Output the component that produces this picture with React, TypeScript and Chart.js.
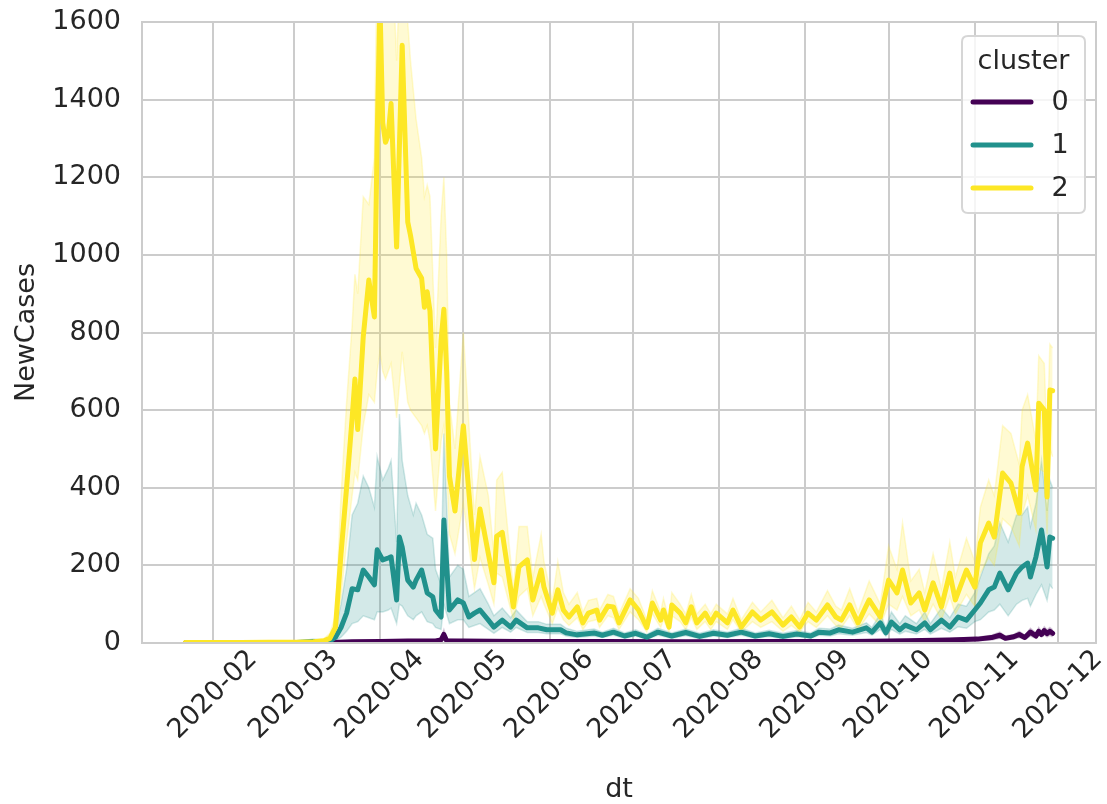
import React, { useEffect, useRef } from "react";
import { Chart, registerables } from "chart.js";

Chart.register(...registerables);

// ---------- data ----------
const clusterNames = ["0", "1", "2"];
const lineColors = ["#440154", "#21918c", "#fde725"];
const bandColors = ["rgba(68,1,84,0.2)", "rgba(33,145,140,0.2)", "rgba(253,231,37,0.2)"];

// day index counted from 2020-01-22
const monthTickDays = [10, 39, 70, 100, 131, 161, 192, 223, 253, 284, 314];
const monthTickLabels = ["2020-02", "2020-03", "2020-04", "2020-05", "2020-06", "2020-07", "2020-08", "2020-09", "2020-10", "2020-11", "2020-12"];
const yTickValues = [0, 200, 400, 600, 800, 1000, 1200, 1400, 1600];

// cluster 0
const c0Days = [0, 50, 55, 60, 70, 80, 90, 92, 93, 94, 100, 120, 150, 180, 210, 240, 260, 275, 285, 290, 293, 295, 298, 300, 302, 304, 306, 307, 308, 309, 310, 311, 312];
const c0Mean = [0, 0, 2, 3, 4, 5, 5, 8, 22, 6, 5, 4, 4, 3, 4, 4, 6, 8, 10, 14, 20, 12, 16, 22, 14, 28, 18, 30, 22, 32, 24, 30, 25];
const c0Lo = [0, 0, 0, 1, 2, 2, 2, 4, 10, 3, 2, 2, 2, 2, 2, 2, 3, 5, 6, 8, 12, 8, 10, 14, 9, 18, 12, 20, 15, 21, 16, 20, 16];
const c0Hi = [0, 1, 4, 6, 7, 8, 8, 12, 34, 10, 8, 7, 6, 5, 6, 7, 9, 12, 15, 20, 28, 18, 22, 30, 20, 38, 26, 40, 30, 42, 34, 40, 34];

// cluster 1
const c1Days = [0, 20, 40, 46, 50, 52, 54, 56, 58, 60, 62, 64, 66, 68, 69, 71, 73, 74, 76, 77, 78, 80, 82, 83, 85, 87, 89, 90, 92, 93, 95, 98, 100, 102, 104, 106, 109, 111, 114, 117, 119, 123, 127, 130, 135, 137, 141, 147, 150, 154, 158, 162, 166, 170, 175, 180, 185, 190, 195, 200, 205, 210, 215, 220, 225, 228, 232, 235, 240, 245, 247, 250, 252, 254, 257, 259, 263, 266, 268, 272, 275, 278, 281, 284, 286, 289, 291, 293, 296, 299, 301, 303, 304, 306, 308, 310, 311, 312];
const c1Mean = [0, 0, 1, 4, 3, 5, 15, 40, 77, 140, 137, 188, 170, 150, 240, 214, 219, 222, 111, 273, 247, 162, 144, 162, 188, 129, 119, 85, 67, 317, 85, 111, 103, 67, 77, 85, 59, 41, 59, 41, 59, 39, 39, 34, 34, 26, 21, 26, 20, 28, 18, 25, 15, 28, 18, 27, 17, 25, 20, 28, 18, 24, 17, 23, 18, 28, 26, 34, 28, 39, 28, 52, 26, 54, 34, 46, 34, 52, 34, 59, 41, 67, 59, 85, 103, 137, 144, 180, 137, 180, 196, 206, 170, 222, 291, 196, 273, 270];
const c1Lo = [0, 0, 0, 1, 1, 2, 6, 15, 30, 50, 55, 70, 65, 60, 80, 80, 85, 90, 50, 100, 95, 70, 60, 70, 80, 55, 50, 40, 35, 100, 50, 60, 60, 40, 45, 50, 35, 25, 40, 28, 40, 27, 27, 24, 24, 18, 14, 18, 14, 20, 12, 18, 10, 20, 12, 19, 11, 18, 14, 20, 12, 17, 11, 16, 12, 20, 18, 24, 20, 27, 20, 35, 18, 35, 23, 30, 23, 35, 23, 38, 28, 42, 38, 55, 60, 80, 85, 100, 70, 100, 110, 115, 95, 125, 150, 110, 150, 140];
const c1Hi = [1, 1, 3, 10, 8, 12, 35, 100, 190, 330, 360, 430, 400, 350, 480, 420, 450, 470, 260, 590, 470, 380, 330, 360, 330, 280, 270, 190, 150, 540, 170, 200, 190, 120, 130, 140, 100, 70, 90, 65, 85, 55, 55, 48, 48, 38, 30, 36, 28, 38, 26, 34, 22, 38, 26, 36, 25, 34, 28, 38, 26, 33, 25, 32, 26, 38, 36, 46, 38, 52, 40, 75, 40, 80, 50, 70, 50, 80, 50, 90, 65, 100, 95, 130, 170, 230, 250, 310, 260, 330, 330, 350, 300, 360, 470, 340, 420, 400];

// cluster 2
const c2Days = [0, 10, 20, 30, 40, 46, 50, 52, 54, 56, 58, 60, 61, 62, 64, 66, 68, 69, 70, 71, 72, 73, 74, 76, 78, 80, 81, 83, 85, 86, 87, 88, 90, 92, 93, 94, 95, 97, 100, 104, 106, 109, 111, 112, 114, 118, 120, 123, 125, 128, 129, 132, 134, 136, 138, 141, 143, 145, 148, 149, 152, 154, 156, 160, 163, 166, 168, 171, 172, 174, 175, 178, 180, 182, 184, 187, 189, 191, 195, 197, 200, 204, 207, 211, 215, 218, 221, 224, 227, 231, 234, 236, 239, 242, 246, 250, 253, 256, 258, 261, 264, 266, 269, 272, 275, 277, 281, 284, 286, 289, 291, 294, 297, 300, 301, 303, 306, 307, 309, 310, 311, 312];
const c2Mean = [1, 1, 1, 2, 2, 3, 6, 12, 40, 230, 400, 580, 680, 550, 790, 935, 840, 1300, 1650, 1340, 1290, 1310, 1390, 1020, 1540, 1085, 1050, 965, 940, 865, 905, 855, 500, 780, 860, 700, 430, 340, 560, 215, 345, 230, 155, 275, 285, 93, 196, 214, 111, 188, 144, 77, 137, 85, 67, 93, 52, 77, 85, 59, 95, 93, 52, 111, 85, 40, 103, 59, 85, 41, 98, 77, 52, 93, 52, 77, 52, 77, 52, 85, 41, 80, 59, 80, 46, 67, 41, 77, 59, 98, 67, 59, 98, 52, 111, 67, 162, 129, 188, 103, 129, 85, 155, 93, 180, 111, 188, 144, 258, 309, 273, 438, 412, 335, 454, 515, 394, 618, 600, 376, 652, 650];
const c2Lo = [0, 0, 0, 0, 1, 1, 2, 5, 20, 120, 260, 380, 440, 420, 560, 640, 620, 700, 750, 700, 680, 700, 720, 580, 750, 620, 600, 580, 560, 540, 560, 520, 340, 520, 560, 450, 280, 230, 360, 140, 220, 150, 100, 180, 170, 60, 120, 140, 70, 120, 100, 50, 90, 60, 45, 65, 35, 55, 60, 40, 70, 65, 35, 80, 60, 28, 75, 40, 60, 28, 70, 55, 35, 65, 35, 55, 35, 55, 35, 60, 28, 55, 40, 55, 30, 45, 28, 55, 40, 70, 45, 40, 70, 35, 75, 45, 100, 85, 120, 70, 85, 55, 100, 60, 120, 75, 125, 95, 180, 220, 200, 320, 300, 250, 330, 380, 290, 450, 440, 280, 500, 480];
const c2Hi = [3, 3, 3, 4, 5, 6, 12, 25, 70, 380, 620, 820, 950, 900, 1150, 1130, 1250, 1800, 1900, 1800, 1800, 1800, 1850, 1500, 1900, 1600, 1500, 1350, 1250, 1150, 1180, 1150, 760, 1100, 1200, 1000, 620, 500, 800, 330, 480, 380, 230, 420, 440, 140, 300, 300, 170, 280, 210, 110, 210, 130, 100, 130, 80, 110, 115, 85, 125, 120, 75, 140, 115, 60, 135, 80, 115, 60, 130, 100, 75, 125, 75, 100, 75, 100, 75, 115, 60, 105, 80, 110, 65, 95, 60, 105, 80, 135, 95, 85, 140, 80, 160, 100, 250, 190, 310, 160, 190, 130, 230, 140, 260, 170, 270, 210, 350, 420, 380, 560, 540, 460, 600, 640, 520, 740, 720, 520, 770, 760];

const seriesDays = [c0Days, c1Days, c2Days];
const seriesMean = [c0Mean, c1Mean, c2Mean];
const seriesLo = [c0Lo, c1Lo, c2Lo];
const seriesHi = [c0Hi, c1Hi, c2Hi];

const FONT = "'DejaVu Sans', sans-serif";
const TEXT_COLOR = "#262626";
const GRID_COLOR = "#cccccc";
const FONT_SIZE = 27;

const toPoints = (days: number[], vals: number[]) => days.map((d, i) => ({ x: d, y: vals[i] }));

export default function App() {
  const canvasRef = useRef<HTMLCanvasElement | null>(null);

  useEffect(() => {
    const canvas = canvasRef.current;
    if (!canvas) return;

    const datasets: any[] = [];
    // confidence bands first (drawn beneath all lines)
    for (let i = 0; i < 3; i++) {
      const loIndex = datasets.length;
      datasets.push({
        label: `lo${i}`,
        data: toPoints(seriesDays[i], seriesLo[i]),
        borderColor: bandColors[i],
        borderWidth: 1.5,
        pointRadius: 0,
        fill: false,
        order: 10 - i,
      });
      datasets.push({
        label: `hi${i}`,
        data: toPoints(seriesDays[i], seriesHi[i]),
        borderColor: bandColors[i],
        backgroundColor: bandColors[i],
        borderWidth: 1.5,
        pointRadius: 0,
        fill: loIndex,
        order: 10 - i,
      });
    }
    for (let i = 0; i < 3; i++) {
      datasets.push({
        label: clusterNames[i],
        data: toPoints(seriesDays[i], seriesMean[i]),
        borderColor: lineColors[i],
        borderWidth: 5,
        pointRadius: 0,
        fill: false,
        borderJoinStyle: "round",
        borderCapStyle: "round",
        order: 3 - i,
      });
    }

    const framePlugin = {
      id: "frameAndLabels",
      afterDraw(chart: any) {
        const { ctx, chartArea } = chart;
        const xs = chart.scales.x;
        ctx.save();
        // frame
        ctx.strokeStyle = GRID_COLOR;
        ctx.lineWidth = 2;
        ctx.strokeRect(chartArea.left, chartArea.top, chartArea.right - chartArea.left, chartArea.bottom - chartArea.top);
        // x tick labels, rotated 45 deg and centred on the tick
        ctx.fillStyle = TEXT_COLOR;
        ctx.font = `${FONT_SIZE}px ${FONT}`;
        ctx.textAlign = "center";
        ctx.textBaseline = "middle";
        monthTickDays.forEach((d, i) => {
          const x = xs.getPixelForValue(d);
          ctx.save();
          ctx.translate(x, chartArea.bottom + 52);
          ctx.rotate(-Math.PI / 4);
          ctx.fillText(monthTickLabels[i], 0, 0);
          ctx.restore();
        });
        // legend
        const bx = 962, by = 36, bw = 123, bh = 177, r = 6;
        ctx.beginPath();
        ctx.moveTo(bx + r, by);
        ctx.lineTo(bx + bw - r, by);
        ctx.quadraticCurveTo(bx + bw, by, bx + bw, by + r);
        ctx.lineTo(bx + bw, by + bh - r);
        ctx.quadraticCurveTo(bx + bw, by + bh, bx + bw - r, by + bh);
        ctx.lineTo(bx + r, by + bh);
        ctx.quadraticCurveTo(bx, by + bh, bx, by + bh - r);
        ctx.lineTo(bx, by + r);
        ctx.quadraticCurveTo(bx, by, bx + r, by);
        ctx.closePath();
        ctx.fillStyle = "rgba(255,255,255,0.8)";
        ctx.fill();
        ctx.strokeStyle = "#d6d6d6";
        ctx.lineWidth = 2;
        ctx.stroke();
        ctx.fillStyle = TEXT_COLOR;
        ctx.font = `${FONT_SIZE}px ${FONT}`;
        ctx.textAlign = "center";
        ctx.fillText("cluster", bx + bw / 2, by + 26);
        clusterNames.forEach((name, i) => {
          const y = by + 66 + i * 43;
          ctx.strokeStyle = lineColors[i];
          ctx.lineWidth = 5;
          ctx.lineCap = "round";
          ctx.beginPath();
          ctx.moveTo(973, y);
          ctx.lineTo(1031, y);
          ctx.stroke();
          ctx.fillStyle = TEXT_COLOR;
          ctx.textAlign = "center";
          ctx.fillText(name, 1060, y + 1);
        });
        ctx.restore();
      },
    };

    const chart = new Chart(canvas, {
      type: "line",
      data: { datasets },
      options: {
        animation: false,
        responsive: false,
        devicePixelRatio: 1,
        layout: { padding: { top: 22, right: 11, left: 0, bottom: 0 } },
        plugins: {
          legend: { display: false },
          tooltip: { enabled: false },
        },
        elements: { line: { tension: 0 } },
        scales: {
          x: {
            type: "linear",
            min: -15.6,
            max: 327.6,
            afterBuildTicks: (scale: any) => {
              scale.ticks = monthTickDays.map((v) => ({ value: v }));
            },
            afterFit: (scale: any) => {
              scale.height = 161;
              scale.paddingLeft = 0;
              scale.paddingRight = 0;
            },
            ticks: { display: false },
            grid: { color: GRID_COLOR, lineWidth: 2, drawTicks: false },
            border: { display: false },
            title: {
              display: true,
              text: "dt",
              color: TEXT_COLOR,
              font: { family: FONT, size: FONT_SIZE },
              padding: { top: 0, bottom: -2 },
            },
          },
          y: {
            type: "linear",
            min: 0,
            max: 1600,
            afterBuildTicks: (scale: any) => {
              scale.ticks = yTickValues.map((v) => ({ value: v }));
            },
            afterFit: (scale: any) => {
              scale.width = 142;
              scale.paddingTop = 0;
              scale.paddingBottom = 0;
            },
            ticks: {
              color: TEXT_COLOR,
              font: { family: FONT, size: FONT_SIZE },
              padding: 21,
              callback: (v: any) => String(v),
            },
            grid: { color: GRID_COLOR, lineWidth: 2, drawTicks: false },
            border: { display: false },
            title: {
              display: true,
              text: "NewCases",
              color: TEXT_COLOR,
              font: { family: FONT, size: FONT_SIZE },
              padding: { top: 11, bottom: 0 },
            },
          },
        },
      },
      plugins: [framePlugin],
    } as any);

    return () => chart.destroy();
  }, []);

  return (
    <div style={{ position: "absolute", left: 0, top: 0, width: 1107, height: 804, background: "#ffffff" }}>
      <canvas ref={canvasRef} width={1107} height={804} />
    </div>
  );
}
